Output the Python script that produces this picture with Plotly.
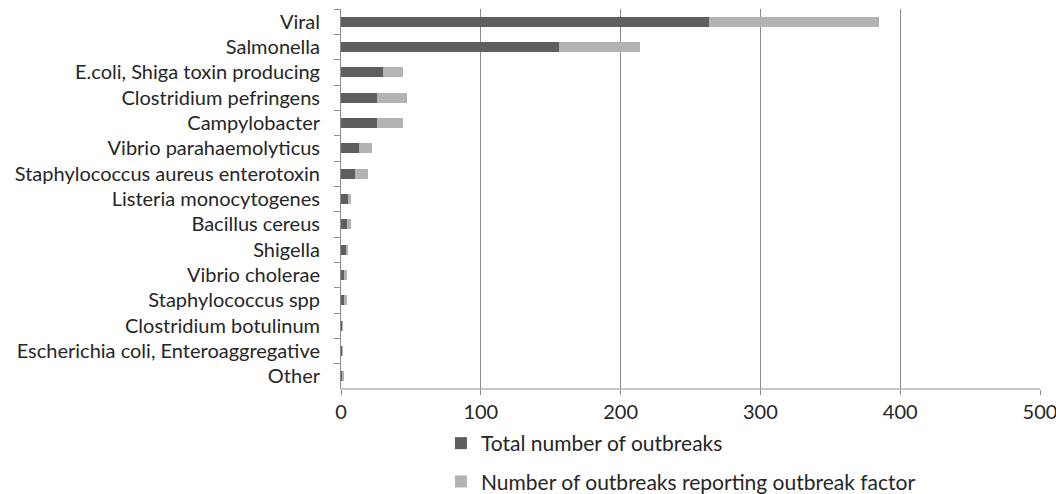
import plotly.graph_objects as go

categories = ["Viral", "Salmonella", "E.coli, Shiga toxin producing", "Clostridium pefringens",
              "Campylobacter", "Vibrio parahaemolyticus", "Staphylococcus aureus enterotoxin",
              "Listeria monocytogenes", "Bacillus cereus", "Shigella", "Vibrio cholerae",
              "Staphylococcus spp", "Clostridium botulinum", "Escherichia coli, Enteroaggregative", "Other"]
total_outbreaks = [263, 156, 30, 26, 26, 13, 10, 5, 4, 4, 2, 2, 1, 1, 1]
reporting_factor = [122, 58, 14, 21, 18, 9, 9, 2, 3, 0.5, 2, 2, 0.3, 0.3, 0.5]
x_ticks = [0, 100, 200, 300, 400, 500]

FONT = "Lato"
FS = 20
fig = go.Figure()
fig.add_trace(go.Bar(y=categories, x=total_outbreaks, orientation="h",
                     name="Total number of outbreaks", marker_color="#5f5f5f",
                     marker_line_width=0, legendgroup="a"))
fig.add_trace(go.Bar(y=categories, x=reporting_factor, orientation="h",
                     name="Number of outbreaks reporting outbreak factor", marker_color="#b3b3b3",
                     marker_line_width=0, legendgroup="b"))

fig.update_layout(
    width=1056, height=494,
    barmode="stack", bargap=0.6,
    margin=dict(l=341, r=16, t=9, b=105),
    plot_bgcolor="white", paper_bgcolor="white",
    font=dict(family=FONT, size=FS, color="#262626"),
    showlegend=True,
    legend=dict(orientation="v", x=0.143, xanchor="left", yref="container", y=1 - 423 / 494,
                yanchor="top", traceorder="grouped", tracegroupgap=8,
                font=dict(family=FONT, size=21, color="#262626"), itemwidth=30),
    xaxis=dict(range=[0, 500], tickvals=x_ticks, showgrid=True, gridcolor="#8c8c8c", gridwidth=1,
               zeroline=False, showline=False, ticks="outside", ticklen=5, tickcolor="#8c8c8c",
               tickfont=dict(size=FS), automargin=False, ticklabeloverflow="allow"),
    yaxis=dict(autorange="reversed", showline=True, linecolor="#8c8c8c", linewidth=1,
               ticks="outside", ticklen=6, tickcolor="#8c8c8c", tickson="boundaries",
               showgrid=False, ticklabelstandoff=16, automargin=False),
)
fig.add_shape(type="line", xref="paper", yref="paper", x0=0, x1=1, y0=0, y1=0,
              line=dict(color="#8c8c8c", width=1))
fig.write_html("out.html")
